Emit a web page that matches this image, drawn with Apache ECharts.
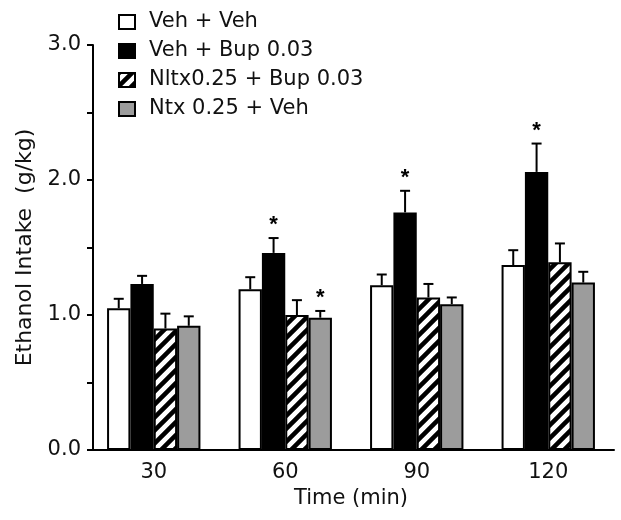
<!DOCTYPE html>
<html><head><meta charset="utf-8">
<script src="https://cdn.jsdelivr.net/npm/echarts@6/dist/echarts.min.js"></script>
<style>html,body{margin:0;padding:0;background:#fff}#c{width:621px;height:520px}</style>
</head><body><div id="c"></div>
<script>
const categories = ['30', '60', '90', '120'];
const seriesNames = ['Veh + Veh', 'Veh + Bup 0.03', 'Nltx0.25 + Bup 0.03', 'Ntx 0.25 + Veh'];
const vehVeh = [1.05, 1.19, 1.22, 1.37];
const vehBup = [1.23, 1.46, 1.76, 2.06];
const nltxBup = [0.90, 1.00, 1.13, 1.39];
const ntxVeh = [0.92, 0.98, 1.08, 1.24];
const vehVehErr = [0.07, 0.09, 0.08, 0.11];
const vehBupErr = [0.06, 0.11, 0.16, 0.21];
const nltxBupErr = [0.11, 0.11, 0.10, 0.14];
const ntxVehErr = [0.07, 0.05, 0.05, 0.08];
const vehBupSig = [false, true, true, true];
const ntxVehSig = [false, true, false, false];
const yTicks = [0, 1, 2, 3];

const FONT = 'DejaVu Sans, sans-serif';
const GAP = 0.29;

function hatchCanvas() {
  const s = 13;
  const c = document.createElement('canvas');
  c.width = s; c.height = s;
  const g = c.getContext('2d');
  g.fillStyle = '#fff'; g.fillRect(0, 0, s, s);
  g.strokeStyle = '#000'; g.lineWidth = 4.5;
  g.beginPath();
  for (const k of [0, s, 2 * s]) {
    g.moveTo(k - 2 * s, 2 * s); g.lineTo(k + s, -s);
  }
  g.stroke();
  return c;
}

const barColors = ['#ffffff', '#000000', { image: hatchCanvas(), repeat: 'repeat' }, '#9c9c9c'];
const barData = [vehVeh, vehBup, nltxBup, ntxVeh];
const errData = [vehVehErr, vehBupErr, nltxBupErr, ntxVehErr];
const sigData = [null, vehBupSig, null, ntxVehSig];

function barSeries(idx) {
  return {
    type: 'bar', name: seriesNames[idx], data: barData[idx],
    barGap: '0%', barCategoryGap: (GAP * 100) + '%',
    itemStyle: { color: barColors[idx], borderColor: '#000', borderWidth: 2 },
    emphasis: { disabled: true }
  };
}

function errSeries(idx) {
  const vals = barData[idx], errs = errData[idx], sig = sigData[idx];
  return {
    type: 'custom', name: seriesNames[idx] + ' err', z: 10,
    data: vals.map((v, i) => [i, v, +(v + errs[i]).toFixed(3), sig && sig[i] ? 1 : 0]),
    encode: { x: 0, y: [1, 2] },
    renderItem: function (params, api) {
      const cat = api.value(0);
      const base = api.coord([cat, api.value(1)]);
      const top = api.coord([cat, api.value(2)]);
      const band = api.size([1, 0])[0];
      const bw = band * (1 - GAP) / 4;
      const x = base[0] + (idx - 1.5) * bw;
      const children = [
        { type: 'line', shape: { x1: x, y1: base[1], x2: x, y2: top[1] }, style: { stroke: '#000', lineWidth: 2 } },
        { type: 'line', shape: { x1: x - 5, y1: top[1], x2: x + 5, y2: top[1] }, style: { stroke: '#000', lineWidth: 2 } }
      ];
      if (api.value(3)) {
        children.push({ type: 'text', style: { text: '*', x: x, y: top[1] - 13, align: 'center', verticalAlign: 'middle', font: 'bold 22px Liberation Sans', fill: '#000' } });
      }
      return { type: 'group', children: children };
    }
  };
}

const chart = echarts.init(document.getElementById('c'), null, { renderer: 'canvas' });
chart.setOption({
  animation: false,
  backgroundColor: '#fff',
  grid: { left: 88, right: 7, top: 45, bottom: 70, containLabel: false },
  legend: {
    data: seriesNames, orient: 'vertical', left: 118, top: 11, padding: 0,
    icon: 'rect',
    itemWidth: 16, itemHeight: 14, itemGap: 7,
    selectedMode: false,
    textStyle: { fontSize: 21, fontFamily: FONT, color: '#111', padding: [0, 0, 0, 9], lineHeight: 22 }
  },
  xAxis: {
    type: 'category', data: categories,
    name: 'Time (min)', nameLocation: 'middle', nameGap: 38,
    nameTextStyle: { fontSize: 21, fontFamily: FONT, color: '#111' },
    axisLine: { lineStyle: { color: '#000', width: 2 } },
    axisTick: { show: false },
    axisLabel: { fontSize: 21, fontFamily: FONT, color: '#111', margin: 12 }
  },
  yAxis: {
    type: 'value', min: yTicks[0], max: yTicks[yTicks.length - 1], interval: 1, offset: -5,
    name: 'Ethanol Intake  (g/kg)', nameLocation: 'middle', nameGap: 57,
    nameTextStyle: { fontSize: 22, fontFamily: FONT, color: '#111' },
    axisLine: { show: true, lineStyle: { color: '#000', width: 2 } },
    axisTick: { show: true, length: 6, lineStyle: { color: '#000', width: 2 } },
    minorTick: { show: true, splitNumber: 2, length: 6, lineStyle: { color: '#000', width: 2 } },
    splitLine: { show: false },
    axisLabel: { formatter: v => v.toFixed(1), fontSize: 21, fontFamily: FONT, color: '#111', margin: 12 }
  },
  series: [0, 1, 2, 3].map(barSeries).concat([0, 1, 2, 3].map(errSeries))
});
</script>
</body></html>
